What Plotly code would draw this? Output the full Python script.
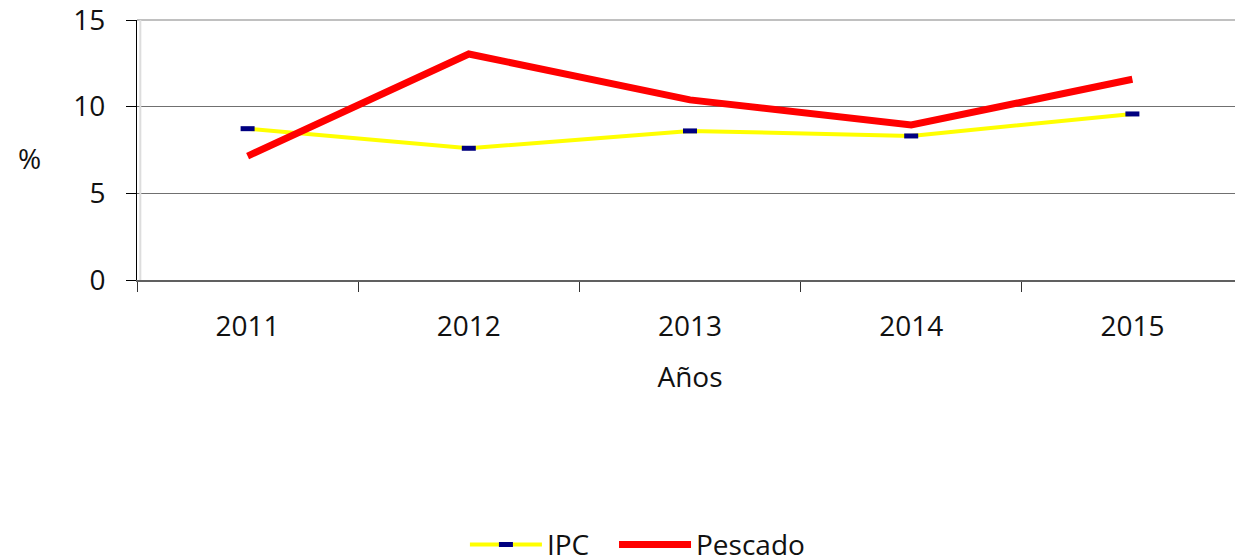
import plotly.graph_objects as go

years = ["2011", "2012", "2013", "2014", "2015"]
ipc = [8.73, 7.6, 8.6, 8.31, 9.58]
pescado = [7.15, 13.04, 10.39, 8.94, 11.58]

FONT = "Open Sans"
SIZE = 28

fig = go.Figure()
fig.add_trace(go.Scatter(
    x=years, y=ipc, name="IPC", mode="lines+markers", legend="legend",
    line={"color": "#FFFF00", "width": 4},
    marker={"symbol": "line-ew", "size": 10, "color": "#000080",
            "line": {"color": "#000080", "width": 5}},
))
fig.add_trace(go.Scatter(
    x=years, y=pescado, name="Pescado", mode="lines", legend="legend2",
    line={"color": "#FF0000", "width": 7},
))

legend_style = {"orientation": "h", "xanchor": "left", "y": -1.018,
                "yanchor": "middle", "font": {"size": SIZE}, "itemwidth": 72}

# page body keeps an 8px margin, so the figure is sized to fill the rest
fig.update_layout(
    width=1235, height=552,
    margin={"l": 129, "r": 0, "t": 12, "b": 280, "autoexpand": False},
    paper_bgcolor="white", plot_bgcolor="white",
    font={"family": FONT, "size": SIZE, "color": "#111111"},
    showlegend=True,
    legend={**legend_style, "x": 0.2965},
    legend2={**legend_style, "x": 0.4313},
)
fig.update_xaxes(
    type="category", range=[-0.5, 4.5], automargin=False,
    showline=True, linecolor="#606060", linewidth=2,
    ticks="outside", tickson="boundaries", ticklen=10, tickcolor="#333333",
    ticklabelstandoff=20,
    showgrid=False,
    title={"text": "Años", "standoff": 25, "font": {"size": SIZE}},
)
fig.update_yaxes(
    range=[0, 15], tickvals=[0, 5, 10, 15], automargin=False,
    ticklabeloverflow="allow",
    showline=True, linecolor="#000000", linewidth=1,
    ticks="outside", ticklen=10, tickcolor="#000000",
    ticklabelstandoff=15,
    showgrid=True, gridcolor="#707070", gridwidth=1,
    zeroline=False,
)
# light top border and 3D shading next to the value axis
fig.add_shape(type="line", xref="paper", yref="paper", x0=0, x1=1, y0=1, y1=1,
              line={"color": "#C0C0C0", "width": 2})
fig.add_shape(type="line", xref="paper", yref="paper", x0=0.003, x1=0.003, y0=0, y1=1,
              line={"color": "#DDDDDD", "width": 2})
fig.add_annotation(text="%", xref="paper", yref="paper", x=-0.097, y=0.469,
                   xanchor="center", yanchor="middle",
                   showarrow=False, font={"size": SIZE})

fig.write_html("out.html")
